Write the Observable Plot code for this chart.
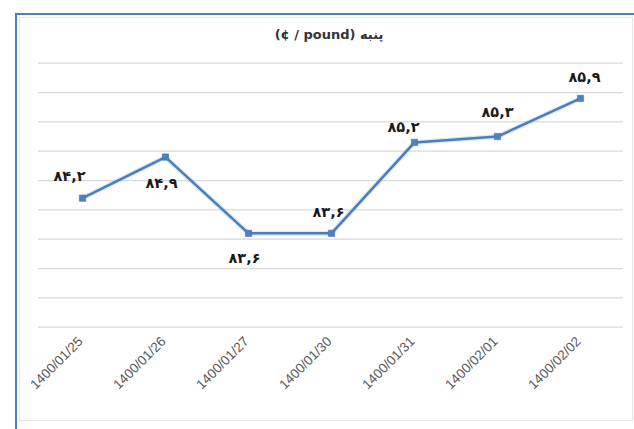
<!DOCTYPE html>
<html><head><meta charset="utf-8">
<script src="https://cdn.jsdelivr.net/npm/d3@7"></script>
<script src="https://cdn.jsdelivr.net/npm/@observablehq/plot@0.6"></script>
<style>
body{margin:0;background:#fff;width:634px;height:429px;overflow:hidden;position:relative;font-family:"Liberation Sans",sans-serif}
#frame{position:absolute;left:15px;top:13px;width:640px;height:440px;border-top:2.5px solid #4f81bd;border-left:2.5px solid #4f81bd;pointer-events:none}
#inner{position:absolute;left:19px;top:17px;width:612px;height:402px;border:1px solid #e6e6e6;pointer-events:none}
#title{position:absolute;top:27px;left:12px;width:634px;text-align:center;direction:rtl;font:bold 13px "DejaVu Sans";color:#333}
#chart{position:absolute;left:0;top:50px}
</style></head>
<body>
<div id="inner"></div>
<div id="frame"></div>
<div id="title">پنبه <bdi dir="ltr">(¢ / pound)</bdi></div>
<div id="chart"></div>
<script>
const dates = ["1400/01/25","1400/01/26","1400/01/27","1400/01/30","1400/01/31","1400/02/01","1400/02/02"];
const prices = [84.2, 84.9, 83.6, 83.6, 85.15, 85.25, 85.9];
const gridTicks = [82, 82.5, 83, 83.5, 84, 84.5, 85, 85.5, 86, 86.5];

// label placement (px offsets from each point)
const place = [[-13,-22],[-4,26],[-4,25],[-3,-21],[-11,-15],[0,-24],[4,-21]];

const faDigits = "۰۱۲۳۴۵۶۷۸۹";
const fa = v => v.toFixed(1).replace(/\d/g, d => faDigits[+d]).replace(".", ",");

const idx = dates.map((d, i) => i);
const blue = "#4a7ebb";

const chart = Plot.plot({
  width: 634,
  height: 379,
  marginLeft: 38,
  marginRight: 11,
  marginTop: 12.7,
  marginBottom: 102.3,
  style: {background: "transparent", overflow: "visible"},
  x: {type: "point", domain: dates, padding: 0.5},
  y: {domain: [82, 86.5], axis: null},
  marks: [
    Plot.ruleY(gridTicks, {stroke: "#d9d9d9", strokeWidth: 1.3}),
    Plot.axisX({tickRotate: -45, tickSize: 0, tickPadding: 12, dx: -2, fontSize: 13.5, fill: "#595959", fontFamily: "Liberation Sans", label: null}),
    Plot.lineY(idx, {x: i => dates[i], y: i => prices[i], stroke: "#9ec0ea", strokeWidth: 5, strokeOpacity: 0.35}),
    Plot.lineY(idx, {x: i => dates[i], y: i => prices[i], stroke: blue, strokeWidth: 2.5}),
    Plot.dot(idx, {x: i => dates[i], y: i => prices[i], symbol: "square", r: 3.6, fill: "#4f81bd", stroke: "#3f6fad", strokeWidth: 0.5}),
    ...idx.map(i => Plot.text([i], {
      x: j => dates[j], y: j => prices[j], text: j => fa(prices[j]),
      dx: place[i][0], dy: place[i][1],
      fontSize: 14.5, fontWeight: "bold", fill: "#1a1a1a", fontFamily: "DejaVu Sans"
    }))
  ]
});
document.getElementById("chart").appendChild(chart);
</script>
</body></html>
